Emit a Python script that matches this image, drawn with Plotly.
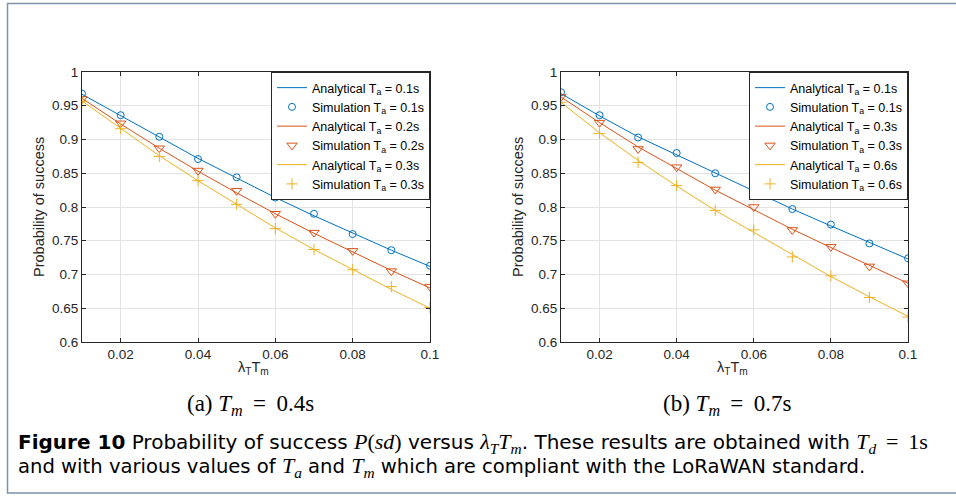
import plotly.graph_objects as go

x_vals = [0.01, 0.02, 0.03, 0.04, 0.05, 0.06, 0.07, 0.08, 0.09, 0.1]

# (a) Tm = 0.4s
a_ana_01 = [0.967, 0.935, 0.903, 0.872, 0.843, 0.814, 0.787, 0.761, 0.736, 0.712]
a_sim_01 = [0.968, 0.936, 0.904, 0.871, 0.844, 0.814, 0.790, 0.760, 0.736, 0.713]
a_ana_02 = [0.961, 0.923, 0.887, 0.853, 0.821, 0.790, 0.761, 0.733, 0.706, 0.680]
a_sim_02 = [0.960, 0.924, 0.887, 0.854, 0.824, 0.790, 0.762, 0.735, 0.705, 0.682]
a_ana_03 = [0.957, 0.916, 0.876, 0.839, 0.804, 0.769, 0.737, 0.707, 0.678, 0.650]
a_sim_03 = [0.956, 0.916, 0.875, 0.839, 0.804, 0.768, 0.737, 0.707, 0.682, 0.651]

# (b) Tm = 0.7s
b_ana_01 = [0.968, 0.935, 0.904, 0.877, 0.850, 0.823, 0.797, 0.772, 0.747, 0.723]
b_sim_01 = [0.970, 0.936, 0.903, 0.880, 0.850, 0.825, 0.797, 0.774, 0.746, 0.724]
b_ana_03 = [0.963, 0.925, 0.889, 0.857, 0.825, 0.796, 0.767, 0.740, 0.713, 0.687]
b_sim_03 = [0.963, 0.925, 0.886, 0.859, 0.826, 0.800, 0.766, 0.741, 0.712, 0.687]
b_ana_06 = [0.955, 0.910, 0.869, 0.831, 0.795, 0.762, 0.729, 0.697, 0.667, 0.638]
b_sim_06 = [0.955, 0.909, 0.866, 0.832, 0.795, 0.766, 0.726, 0.698, 0.666, 0.637]

a_labels = ["0.1s", "0.2s", "0.3s"]
b_labels = ["0.1s", "0.3s", "0.6s"]

y_ticks = [0.6, 0.65, 0.7, 0.75, 0.8, 0.85, 0.9, 0.95, 1]
y_ticktext = ["0.6", "0.65", "0.7", "0.75", "0.8", "0.85", "0.9", "0.95", "1"]
x_ticks = [0.02, 0.04, 0.06, 0.08, 0.1]
x_ticktext = ["0.02", "0.04", "0.06", "0.08", "0.1"]

colors = ["#0072BD", "#D95319", "#EDB120"]
symbols = ["circle-open", "triangle-down-open", "cross-thin-open"]
sizes = [7, 9, 8]

W, H = 956, 497
def px(x):
    return x / W
def py(y):
    return 1 - y / H

fig = go.Figure()

panels = [
    ("x", "y", "legend", a_labels, [(a_ana_01, a_sim_01), (a_ana_02, a_sim_02), (a_ana_03, a_sim_03)]),
    ("x2", "y2", "legend2", b_labels, [(b_ana_01, b_sim_01), (b_ana_03, b_sim_03), (b_ana_06, b_sim_06)]),
]

for xa, ya, leg, labels, series in panels:
    for i, (ana, sim) in enumerate(series):
        fig.add_trace(go.Scatter(
            x=x_vals, y=ana, mode="lines", xaxis=xa, yaxis=ya, legend=leg,
            line=dict(color=colors[i], width=1),
            name=f"Analytical T<sub>a</sub> = {labels[i]}"))
        fig.add_trace(go.Scatter(
            x=x_vals, y=sim, mode="markers", xaxis=xa, yaxis=ya, legend=leg,
            marker=dict(color=colors[i], symbol=symbols[i], size=sizes[i],
                        line=dict(width=1, color=colors[i])),
            name=f"Simulation T<sub>a</sub> = {labels[i]}"))

axis_common = dict(
    showline=True, linecolor="#262626", linewidth=1, mirror="ticks",
    ticks="inside", ticklen=4, tickcolor="#262626", automargin=False,
    showgrid=True, gridcolor="#e3e3e3", gridwidth=1, zeroline=False,
    tickfont=dict(family="Liberation Sans, Arial", size=13.5, color="#262626"),
)

dom_y = [py(342), py(72)]
legend_common = dict(yanchor="top", xanchor="right", y=py(72),
                     bgcolor="white", bordercolor="#262626", borderwidth=1,
                     font=dict(family="Liberation Sans, Arial", size=12.5, color="#000"),
                     tracegroupgap=0, itemwidth=30)
fig.update_layout(
    template="none",
    width=W, height=H,
    margin=dict(l=0, r=0, t=0, b=0, autoexpand=False),
    paper_bgcolor="white", plot_bgcolor="white",
    xaxis=dict(domain=[px(82), px(430)], range=[0.01, 0.1], tickvals=x_ticks,
               ticktext=x_ticktext, anchor="y", **axis_common),
    yaxis=dict(domain=dom_y, range=[0.6, 1], tickvals=y_ticks,
               ticktext=y_ticktext, anchor="x", **axis_common),
    xaxis2=dict(domain=[px(561), px(908)], range=[0.01, 0.1], tickvals=x_ticks,
                ticktext=x_ticktext, anchor="y2", **axis_common),
    yaxis2=dict(domain=dom_y, range=[0.6, 1], tickvals=y_ticks,
                ticktext=y_ticktext, anchor="x2", **axis_common),
    legend=dict(x=px(430), **legend_common),
    legend2=dict(x=px(908), **legend_common),
    showlegend=True,
)

ann_font = dict(family="Liberation Sans, Arial", size=14.5, color="#262626")
sub_font = dict(family="Liberation Serif, DejaVu Serif", size=23, color="#000")
th = "\u2009"
annotations = [
    dict(x=px(39), y=py(207), text="Probability of success", textangle=-90, font=ann_font),
    dict(x=px(518), y=py(207), text="Probability of success", textangle=-90, font=ann_font),
    dict(x=px(253), y=py(368), text="λ<sub>T</sub>T<sub>m</sub>", font=ann_font),
    dict(x=px(732), y=py(368), text="λ<sub>T</sub>T<sub>m</sub>", font=ann_font),
    dict(x=px(251), y=py(405), text=f"(a) <i>T</i><sub><i>m</i></sub> {th}= {th}0.4s", font=sub_font),
    dict(x=px(727), y=py(405), text=f"(b) <i>T</i><sub><i>m</i></sub> {th}= {th}0.7s", font=sub_font),
]
serif = "font-family:'Liberation Serif';font-size:22px"
cap1 = ("<b>Figure 10</b> Probability of success "
        f"<span style=\"{serif}\"><i>P</i>(<i>sd</i>)</span> versus "
        f"<span style=\"{serif}\"><i>λ</i><sub><i>T</i></sub><i>T</i><sub><i>m</i></sub></span>. "
        "These results are obtained with "
        f"<span style=\"{serif}\"><i>T</i><sub><i>d</i></sub> {th}= {th}1s</span>")
cap2 = ("and with various values of "
        f"<span style=\"{serif}\"><i>T</i><sub><i>a</i></sub></span> and "
        f"<span style=\"{serif}\"><i>T</i><sub><i>m</i></sub></span> "
        "which are compliant with the LoRaWAN standard.")
annotations += [
    dict(x=px(16), y=py(443), text=cap1, xanchor="left",
         font=dict(family="DejaVu Sans, Verdana", size=20, color="#000")),
    dict(x=px(16), y=py(467), text=cap2, xanchor="left",
         font=dict(family="DejaVu Sans, Verdana", size=19.6, color="#000")),
]
for a in annotations:
    a.setdefault("xanchor", "center")
    a.update(xref="paper", yref="paper", yanchor="middle", showarrow=False)
fig.update_layout(annotations=annotations)

fig.add_shape(type="rect", xref="paper", yref="paper",
              x0=px(7.5), x1=px(970), y0=py(493), y1=py(3.5),
              line=dict(color="#7d92ab", width=1.5), fillcolor="rgba(0,0,0,0)", layer="below")

fig.write_html("out.html", config={"displayModeBar": False},
               post_script="document.body.style.margin='0';document.body.style.overflow='hidden';")
